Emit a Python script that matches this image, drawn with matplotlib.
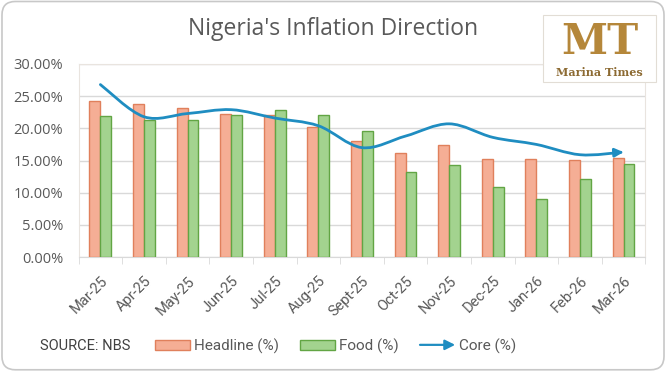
import numpy as np
import matplotlib
matplotlib.use("Agg")
import matplotlib.pyplot as plt
from matplotlib.path import Path
from matplotlib.patches import PathPatch, Patch, FancyBboxPatch, Rectangle, FancyArrowPatch
from matplotlib.lines import Line2D
from matplotlib.legend_handler import HandlerBase

plt.rcParams['font.family'] = ['Open Sans', 'DejaVu Sans']
NARROW = ['Roboto', 'DejaVu Sans']

months = ['Mar-25', 'Apr-25', 'May-25', 'Jun-25', 'Jul-25', 'Aug-25', 'Sept-25',
          'Oct-25', 'Nov-25', 'Dec-25', 'Jan-26', 'Feb-26', 'Mar-26']
headline = [24.3, 23.8, 23.1, 22.3, 22.0, 20.2, 18.1, 16.1, 17.4, 15.2, 15.2, 15.1, 15.4]
food = [21.9, 21.35, 21.25, 22.1, 22.8, 22.0, 19.6, 13.2, 14.3, 10.9, 9.0, 12.2, 14.4]
core = [26.8, 21.8, 22.3, 22.9, 21.6, 20.4, 17.0, 18.8, 20.7, 18.6, 17.5, 15.9, 16.3]
yticks = [0, 5, 10, 15, 20, 25, 30]

GRAY = '#595959'
HEAD_FACE, HEAD_EDGE = '#F5AE95', '#E0805C'
FOOD_FACE, FOOD_EDGE = '#A3D38F', '#62A544'
CORE = '#1F8DC1'


class ArrowHandler(HandlerBase):
    # legend key drawn as a small arrow, like the Excel line with end arrow
    def create_artists(self, legend, orig_handle, xdescent, ydescent, width, height,
                       fontsize, trans):
        y = height / 2 - ydescent
        a = FancyArrowPatch((-xdescent, y), (width - xdescent, y),
                            arrowstyle='-|>,head_length=0.6,head_width=0.3',
                            mutation_scale=10, color=CORE, lw=1.6, transform=trans,
                            shrinkA=0, shrinkB=0)
        return [a]


fig = plt.figure(figsize=(6.66, 3.72), dpi=100)
fig.patch.set_facecolor('white')

# rounded card border
card = FancyBboxPatch((0.003, 0.006), 0.994, 0.99, boxstyle='round,pad=0,rounding_size=0.02',
                      transform=fig.transFigure, facecolor='none', edgecolor='#C8C8C8',
                      lw=1.2, zorder=-1, mutation_aspect=666 / 372)
fig.patches.append(card)

ax = fig.add_axes([0.118, 0.309, 0.851, 0.519])
ax.patch.set_alpha(0)
x = np.arange(len(months))
w = 0.25
ax.bar(x - w / 2, headline, w, color=HEAD_FACE, edgecolor=HEAD_EDGE, lw=1.0, zorder=3)
ax.bar(x + w / 2, food, w, color=FOOD_FACE, edgecolor=FOOD_EDGE, lw=1.0, zorder=3)

# smoothed core line (Catmull-Rom style bezier, like Excel smoothing)
pts = np.column_stack([x, core]).astype(float)
verts = [pts[0]]
codes = [Path.MOVETO]
n = len(pts)
for i in range(n - 1):
    p0 = pts[max(i - 1, 0)]
    p1 = pts[i]
    p2 = pts[i + 1]
    p3 = pts[min(i + 2, n - 1)]
    c1 = p1 + (p2 - p0) / 6.0
    c2 = p2 - (p3 - p1) / 6.0
    verts += [c1, c2, p2]
    codes += [Path.CURVE4] * 3
path = Path(verts[:-1] + [pts[-1] - (pts[-1] - verts[-2]) * 0.35], codes)
ax.add_patch(PathPatch(path, facecolor='none', edgecolor=CORE, lw=2.0, zorder=4,
                       transform=ax.transData, capstyle='round'))
ax.annotate('', xy=tuple(pts[-1]), xytext=tuple(verts[-2]),
            arrowprops=dict(arrowstyle='-|>,head_length=0.5,head_width=0.25',
                            color=CORE, lw=2.0, shrinkA=0, shrinkB=0), zorder=5)

ax.set_xlim(-0.5, len(months) - 0.5)
ax.set_ylim(0, 30)
ax.set_yticks(yticks)
ax.set_yticklabels([f'{v:.2f}%' for v in yticks], color=GRAY, fontsize=10.5)
ax.set_xticks(x)
ax.set_xticklabels(months, rotation=45, ha='right', va='top', rotation_mode='anchor',
                   color=GRAY, fontsize=10.5, family=NARROW)
ax.set_xticks(np.arange(-0.5, len(months)), minor=True)
ax.tick_params(axis='x', which='major', length=0, pad=12)
ax.tick_params(axis='x', which='minor', length=5, color='#D9D9D9')
ax.tick_params(axis='y', length=0, pad=11)
ax.grid(axis='y', color='#D9D9D9', lw=1.0, zorder=0)
for s in ['top', 'right', 'left']:
    ax.spines[s].set_color('#E9E4DF')
    ax.spines[s].set_linewidth(0.8)
ax.spines['bottom'].set_color('#D9D9D9')
ax.set_axisbelow(True)

fig.text(0.5, 0.922, "Nigeria's Inflation Direction", ha='center', va='center',
         fontsize=16.5, color=GRAY)

# legend
fig.text(0.06, 0.07, 'SOURCE: NBS', ha='left', va='center', fontsize=10.5,
         color='#404040', family=NARROW)
handles = [Patch(facecolor=HEAD_FACE, edgecolor=HEAD_EDGE, label='Headline (%)'),
           Patch(facecolor=FOOD_FACE, edgecolor=FOOD_EDGE, label='Food (%)'),
           Line2D([], [], color=CORE, lw=2, label='Core (%)')]
fig.legend(handles=handles, loc='center left', bbox_to_anchor=(0.233, 0.07), ncol=3,
           frameon=False, prop={'family': NARROW, 'size': 11}, labelcolor=GRAY,
           handlelength=2.3, handleheight=0.65, handletextpad=0.26, columnspacing=1.37,
           borderpad=0, borderaxespad=0, handler_map={Line2D: ArrowHandler()})

# Marina Times logo
fig.patches.append(Rectangle((0.815, 0.78), 0.17, 0.18, transform=fig.transFigure,
                             facecolor='white', edgecolor='#E2DDD5', lw=0.8, zorder=5))
fig.text(0.9, 0.888, 'MT', ha='center', va='center', fontsize=30, color='#B5873A',
         family='DejaVu Serif', weight='bold', zorder=6)
fig.text(0.9, 0.805, 'Marina Times', ha='center', va='center', fontsize=8, color='#8C6A32',
         family='DejaVu Serif', weight='bold', zorder=6)

fig.savefig('out.png', dpi=100)
